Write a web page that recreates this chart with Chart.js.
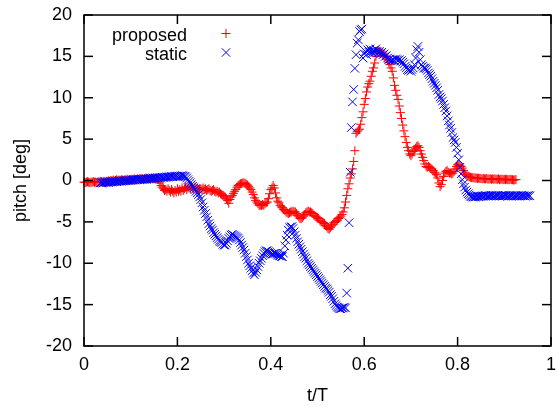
<!DOCTYPE html>
<html>
<head>
<meta charset="utf-8">
<script src="https://cdn.jsdelivr.net/npm/chart.js"></script>
<style>
  html, body { margin: 0; padding: 0; background: #fff; }
  #wrap { width: 558px; height: 407px; }
</style>
</head>
<body>
<div id="wrap"><canvas id="c" width="558" height="407"></canvas></div>
<script>
// ---- data ----
const xTickValues = [0, 0.2, 0.4, 0.6, 0.8, 1];
const yTickValues = [-20, -15, -10, -5, 0, 5, 10, 15, 20];
const seriesNames = ['proposed', 'static'];
const sampleStep = 0.0025;

// "proposed": samples from t = 0 every 0.0025 (one row = 0.05 of t/T)
const proposedStart = 0.0;
const proposedValues = [
  -0.2,-0.25,-0.2,-0.15,-0.2,-0.25,-0.2,-0.2,-0.15,-0.2,-0.2,-0.25,-0.15,-0.2,-0.1,-0.15,-0.2,-0.1,-0.15,-0.1,
  -0.1,-0.05,-0.1,0.0,-0.05,0.05,-0.05,0.0,0.1,0.0,0.05,0.0,0.1,0.05,0.0,0.1,0.05,0.15,0.05,0.1,
  0.1,0.15,0.05,0.2,0.1,0.15,0.2,0.1,0.25,0.15,0.2,0.1,0.2,0.3,0.15,0.2,0.25,0.15,0.3,0.2,
  0.25,0.2,0.3,0.15,0.1,-0.3,-0.6,-0.8,-1.0,-1.2,-1.1,-1.3,-1.0,-1.2,-1.4,-1.1,-1.3,-1.5,-1.2,-1.4,
  -1.0,-1.3,-1.1,-1.3,-0.9,-1.2,-1.0,-0.8,-1.1,-0.9,-0.8,-1.0,-0.7,-0.9,-1.0,-0.8,-1.0,-0.9,-1.1,-1.0,
  -1.0,-1.1,-0.9,-1.1,-1.0,-1.2,-1.1,-1.0,-1.2,-1.3,-1.2,-1.1,-1.3,-1.4,-1.3,-1.5,-1.4,-1.6,-1.7,-1.8,
  -1.9,-2.0,-2.2,-2.4,-2.75,-2.3,-2.0,-1.8,-1.55,-1.3,-1.1,-0.8,-0.6,-0.5,-0.4,-0.35,-0.3,-0.3,-0.35,-0.45,
  -0.55,-0.7,-0.9,-1.1,-1.4,-1.7,-2.1,-2.4,-2.6,-2.8,-3.0,-3.0,-3.0,-2.9,-3.0,-2.8,-2.7,-2.6,-2.2,-1.6,
  -1.1,-0.9,-0.6,-0.9,-1.5,-2.1,-2.5,-2.7,-3.0,-3.2,-3.3,-3.5,-3.6,-3.8,-3.9,-4.0,-3.9,-3.8,-3.8,-3.7,
  -3.8,-3.8,-4.0,-4.2,-4.4,-4.6,-4.6,-4.5,-4.3,-4.1,-3.9,-3.8,-3.7,-3.8,-3.8,-3.9,-4.0,-4.2,-4.3,-4.4,
  -4.5,-4.6,-4.8,-5.0,-5.0,-5.1,-5.2,-5.4,-5.6,-5.8,-5.9,-5.7,-5.5,-5.3,-5.1,-5.0,-4.9,-4.8,-4.6,-4.5,
  -4.3,-4.1,-3.8,-3.3,-2.6,-1.8,-1.0,-0.4,0.3,0.8,1.4,2.3,3.6,5.7,5.9,6.1,6.2,6.8,7.6,8.3,
  9.2,9.9,10.7,11.3,11.7,12.0,12.6,13.2,13.6,14.2,15.0,15.6,15.7,15.6,15.5,15.4,15.4,15.2,15.0,14.8,
  14.6,14.3,14.0,13.6,13.2,12.4,11.5,10.9,10.3,9.8,9.0,8.2,7.5,6.7,6.0,5.3,4.6,4.0,3.6,3.2,
  3.0,3.2,3.5,3.7,3.9,4.1,4.2,4.0,3.6,3.2,2.8,2.4,2.0,1.7,1.6,1.7,1.6,1.5,1.4,1.2,
  1.0,0.9,0.7,0.3,-0.3,-0.75,-0.5,0.0,0.5,0.9,1.1,1.2,1.0,0.9,0.9,0.8,0.9,1.1,1.4,1.7,
  1.9,1.9,1.8,1.7,1.5,1.2,0.9,0.7,0.55,0.5,0.45,0.4,0.35,0.35,0.3,0.3,0.3,0.25,0.3,0.25,
  0.25,0.2,0.25,0.2,0.2,0.25,0.15,0.2,0.2,0.15,0.2,0.15,0.2,0.15,0.15,0.2,0.1,0.15,0.15,0.1,
  0.15,0.1,0.15,0.1,0.1,0.15,0.1,0.1,0.05,0.1,0.1
];

// "static": samples from t = 0.035 every 0.0025 (first row partial)
const staticStart = 0.035;
const staticValues = [
  -0.3,-0.25,-0.3,-0.25,-0.2,-0.25,
  -0.2,-0.25,-0.2,-0.15,-0.2,-0.15,-0.15,-0.1,-0.15,-0.1,-0.1,-0.05,-0.1,-0.05,-0.05,0.0,-0.05,0.0,0.0,0.05,
  0.0,0.05,0.05,0.1,0.05,0.1,0.1,0.15,0.1,0.15,0.15,0.2,0.15,0.2,0.2,0.25,0.2,0.25,0.25,0.3,
  0.25,0.3,0.3,0.35,0.3,0.35,0.35,0.4,0.35,0.4,0.4,0.45,0.4,0.45,0.45,0.5,0.45,0.5,0.5,0.55,
  0.5,0.55,0.5,0.55,0.6,0.55,0.5,0.45,0.3,0.1,-0.1,-0.3,-0.5,-0.7,-0.9,-1.1,-1.3,-1.5,-1.7,-2.0,
  -2.3,-2.7,-3.2,-3.6,-4.0,-4.4,-4.8,-5.2,-5.5,-5.8,-6.0,-6.3,-6.5,-6.7,-6.9,-7.1,-7.3,-7.4,-7.5,-7.7,
  -7.8,-7.8,-7.6,-7.3,-7.0,-6.8,-6.6,-6.5,-6.6,-6.7,-6.8,-6.9,-7.0,-7.2,-7.5,-7.8,-8.1,-8.4,-8.8,-9.2,
  -9.6,-10.0,-10.3,-10.6,-10.9,-11.2,-11.4,-11.1,-10.8,-10.4,-10.0,-9.7,-9.4,-9.1,-8.8,-8.6,-8.5,-8.5,-8.6,-8.7,
  -8.8,-8.9,-8.9,-8.8,-8.8,-8.9,-9.0,-9.1,-9.1,-9.2,-9.2,-8.8,-7.9,-7.2,-6.6,-6.0,-5.7,-5.6,-5.6,-5.8,
  -6.2,-6.6,-7.0,-7.4,-7.7,-8.0,-8.3,-8.6,-8.9,-9.2,-9.4,-9.7,-10.0,-10.2,-10.4,-10.6,-10.8,-11.0,-11.2,-11.4,
  -11.6,-11.8,-12.0,-12.2,-12.4,-12.6,-12.8,-13.0,-13.1,-13.3,-13.5,-13.8,-14.0,-14.3,-14.6,-14.9,-15.1,-15.3,-15.4,-15.5,
  -15.5,-15.4,-15.4,-15.3,-15.4,-13.6,-10.6,-5.1,1.0,6.4,9.5,11.0,13.55,15.2,16.6,17.0,18.0,18.2,18.3,14.8,
  15.3,15.6,15.2,15.8,15.5,15.9,15.6,15.4,15.7,15.5,15.9,15.6,15.4,15.6,15.3,15.5,15.2,15.3,15.0,15.1,
  14.8,14.6,14.7,14.5,14.6,14.6,14.5,14.7,14.6,14.5,14.6,14.4,14.5,14.3,14.1,13.8,13.6,13.4,13.3,13.4,
  13.2,13.4,13.6,14.0,14.8,15.8,16.2,15.5,14.6,14.0,13.8,13.6,13.6,13.5,13.3,13.0,12.8,12.6,12.3,12.0,
  11.75,11.5,11.2,10.9,10.4,10.1,9.9,9.6,9.2,8.8,8.4,7.8,7.2,6.7,6.3,5.8,5.2,4.9,4.6,4.0,
  3.3,2.5,1.6,0.8,0.1,-0.4,-0.8,-1.15,-1.4,-1.6,-1.75,-1.9,-1.95,-2.0,-1.95,-2.0,-1.95,-1.9,-1.95,-1.9,
  -1.9,-1.85,-1.9,-1.85,-1.8,-1.85,-1.9,-1.85,-1.85,-1.8,-1.85,-1.9,-1.85,-1.8,-1.85,-1.85,-1.9,-1.85,-1.8,-1.85,
  -1.85,-1.8,-1.85,-1.9,-1.85,-1.8,-1.85,-1.85,-1.9,-1.85,-1.8,-1.85,-1.85,-1.9,-1.85,-1.8,-1.85,-1.85,-1.9,-1.85,
  -1.85,-1.8,-1.85
];

// ---- build point lists ----
function gridPoints(start, values) {
  return values.map((v, i) => ({ x: +(start + i * sampleStep).toFixed(5), y: v }));
}
const proposedPts = gridPoints(proposedStart, proposedValues);
const staticPts = gridPoints(staticStart, staticValues);

const FONT = '"Liberation Sans", Arial, Helvetica, sans-serif';
const RED = '#ff0000', BLUE = '#0000ff';

function drawFrame(chart) {
  const ctx = chart.ctx;
  const a = chart.chartArea;
  const xs = chart.scales.x, ys = chart.scales.y;
  const tl = 9;
  ctx.save();
  ctx.strokeStyle = '#000000';
  ctx.lineWidth = 1.5;
  const segs = [];
  xTickValues.forEach(v => {
    const p = xs.getPixelForValue(v);
    segs.push([p, a.bottom, p, a.bottom - tl]);
    segs.push([p, a.top, p, a.top + tl]);
  });
  yTickValues.forEach(v => {
    const p = ys.getPixelForValue(v);
    segs.push([a.left, p, a.left + tl, p]);
    segs.push([a.right, p, a.right - tl, p]);
  });
  segs.forEach(s => {
    ctx.beginPath();
    ctx.moveTo(s[0], s[1]);
    ctx.lineTo(s[2], s[3]);
    ctx.stroke();
  });
  ctx.strokeRect(a.left, a.top, a.right - a.left, a.bottom - a.top);
  ctx.restore();
}

function drawKey(chart) {
  const ctx = chart.ctx;
  ctx.save();
  ctx.font = '18px ' + FONT;
  ctx.fillStyle = '#000';
  ctx.textAlign = 'right';
  ctx.textBaseline = 'alphabetic';
  const rows = [
    { name: seriesNames[0], base: 40.5, color: RED, style: 'plus' },
    { name: seriesNames[1], base: 59.5, color: BLUE, style: 'x' }
  ];
  rows.forEach(r => {
    ctx.fillText(r.name, 187, r.base);
    const mx = 226, my = r.base - 7;
    ctx.strokeStyle = r.color;
    ctx.lineWidth = 1;
    ctx.beginPath();
    if (r.style === 'plus') {
      ctx.moveTo(mx - 4.5, my); ctx.lineTo(mx + 4.5, my);
      ctx.moveTo(mx, my - 4.5); ctx.lineTo(mx, my + 4.5);
    } else {
      ctx.moveTo(mx - 4.2, my - 4.2); ctx.lineTo(mx + 4.2, my + 4.2);
      ctx.moveTo(mx - 4.2, my + 4.2); ctx.lineTo(mx + 4.2, my - 4.2);
    }
    ctx.stroke();
  });
  ctx.restore();
}

const overlayPlugin = {
  id: 'gpOverlay',
  afterDraw(chart) {
    drawFrame(chart);
    drawKey(chart);
  }
};

new Chart(document.getElementById('c'), {
  type: 'scatter',
  data: {
    datasets: [
      {
        label: seriesNames[0], data: proposedPts, order: 1,
        pointStyle: 'cross', pointRadius: 4.5, pointBorderWidth: 1,
        borderColor: RED, backgroundColor: RED, clip: false
      },
      {
        label: seriesNames[1], data: staticPts, order: 0,
        pointStyle: 'crossRot', pointRadius: 6, pointBorderWidth: 1,
        borderColor: BLUE, backgroundColor: BLUE, clip: false
      }
    ]
  },
  options: {
    responsive: false,
    animation: false,
    devicePixelRatio: 1,
    layout: { padding: { top: 15, right: 4, left: 0, bottom: 0 } },
    plugins: { legend: { display: false }, tooltip: { enabled: false } },
    scales: {
      x: {
        type: 'linear', min: 0, max: 1,
        afterBuildTicks(s) { s.ticks = xTickValues.map(v => ({ value: v })); },
        afterFit(s) { s.height = 61; s.paddingLeft = 0; s.paddingRight = 0; },
        grid: { display: false, drawTicks: false }, border: { display: false },
        ticks: {
          color: '#000', font: { family: FONT, size: 18 }, padding: 8,
          callback: v => String(+(+v).toFixed(1))
        },
        title: { display: true, text: 't/T', color: '#000', font: { family: FONT, size: 18 }, padding: { top: 0, bottom: 0 } }
      },
      y: {
        type: 'linear', min: -20, max: 20,
        afterBuildTicks(s) { s.ticks = yTickValues.map(v => ({ value: v })); },
        afterFit(s) { s.width = 84; s.paddingTop = 0; s.paddingBottom = 0; },
        grid: { display: false, drawTicks: false }, border: { display: false },
        ticks: {
          color: '#000', font: { family: FONT, size: 18 }, padding: 12,
          callback: v => String(v)
        },
        title: { display: true, text: 'pitch [deg]', color: '#000', font: { family: FONT, size: 18 }, padding: { top: 10, bottom: 0 } }
      }
    }
  },
  plugins: [overlayPlugin]
});
</script>
</body>
</html>
